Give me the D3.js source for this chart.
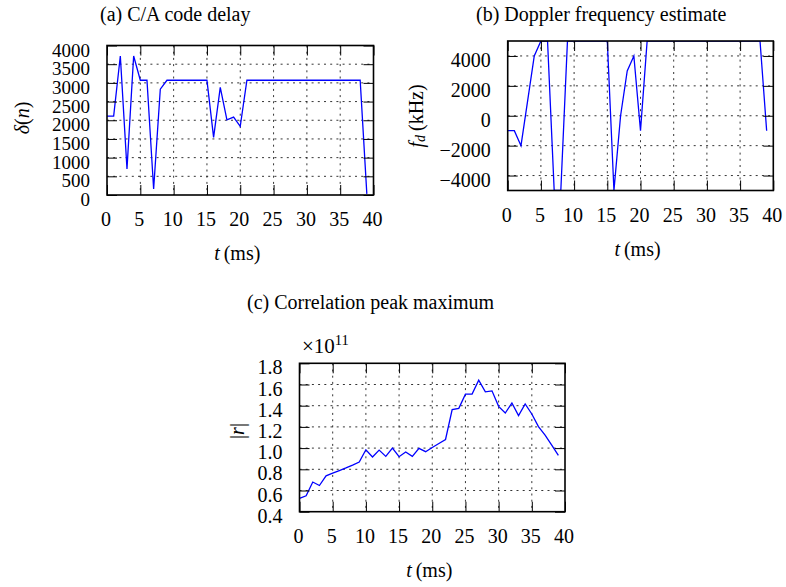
<!DOCTYPE html>
<html>
<head>
<meta charset="utf-8">
<script src="https://cdn.jsdelivr.net/npm/d3@7"></script>
<style>
  html, body { margin: 0; padding: 0; background: #fff; }
  svg { display: block; }
  text { font-family: "Liberation Serif", "Times New Roman", serif; fill: #000; }
</style>
</head>
<body>
<svg id="fig" width="786" height="587"></svg>
<script>
// Sample times (ms)
const timeMs = [0, 1, 2, 3, 4, 5, 6, 7, 8, 9, 10, 11, 12, 13, 14, 15, 16, 17, 18, 19,
                20, 21, 22, 23, 24, 25, 26, 27, 28, 29, 30, 31, 32, 33, 34, 35, 36, 37, 38, 39];

// (a) C/A code delay, samples
const codeDelay = [2110, 2110, 3720, 700, 3720, 3070, 3070, 160, 2830, 3070,
                   3070, 3070, 3070, 3070, 3070, 3070, 1540, 2880, 2010, 2085,
                   1835, 3070, 3070, 3070, 3070, 3070, 3070, 3070, 3070, 3070,
                   3070, 3070, 3070, 3070, 3070, 3070, 3070, 3070, 3070, 30];

// (b) Doppler frequency estimate
const dopplerFreq = [-1000, -1000, -2000, 1000, 4000, 5000, 5000, -5000, -5000, 5000,
                     5000, 5000, 5000, 5000, 5000, 5000, -5000, 0, 3000, 4000,
                     -1000, 5000, 5000, 5000, 5000, 5000, 5000, 5000, 5000, 5000,
                     5000, 5000, 5000, 5000, 5000, 5000, 5000, 5000, 5000, -1000];

// (c) Correlation peak maximum, in units of 1e11
const corrPeak = [0.525, 0.55, 0.68, 0.647, 0.738, 0.763, 0.788, 0.813, 0.84, 0.869,
                  0.984, 0.916, 0.981, 0.922, 1.0, 0.919, 0.963, 0.922, 0.997, 0.966,
                  1.006, 1.044, 1.081, 1.363, 1.375, 1.509, 1.509, 1.64, 1.531, 1.54,
                  1.394, 1.331, 1.425, 1.306, 1.416, 1.322, 1.203, 1.122, 1.028, 0.931];

// Tick values
const timeTicks = [0, 5, 10, 15, 20, 25, 30, 35, 40];
const delayTicks = [0, 500, 1000, 1500, 2000, 2500, 3000, 3500, 4000];
const dopplerTicks = [-4000, -2000, 0, 2000, 4000];
const corrTicks = [0.4, 0.6, 0.8, 1.0, 1.2, 1.4, 1.6, 1.8];

const svg = d3.select("#fig");
const TICK = 10;

function drawPanel(cfg, idx) {
  const x = d3.scaleLinear().domain([0, 40]).range([cfg.left, cfg.right]);
  const y = d3.scaleLinear().domain(cfg.yDomain).range([cfg.bottom, cfg.top]);
  const g = svg.append("g");
  const w = cfg.right - cfg.left, h = cfg.bottom - cfg.top;

  const clipId = "clip" + idx;
  svg.append("clipPath").attr("id", clipId)
    .append("rect").attr("x", cfg.left).attr("y", cfg.top).attr("width", w).attr("height", h);

  // dotted grid
  const grid = g.append("g").attr("stroke", "#000").attr("stroke-width", 0.8)
    .attr("stroke-dasharray", "2,4.2");
  grid.selectAll("line.gx").data(timeTicks.filter(t => t > 0 && t < 40)).join("line")
    .attr("x1", d => x(d)).attr("x2", d => x(d)).attr("y1", cfg.top).attr("y2", cfg.bottom);
  grid.selectAll("line.gy").data(cfg.yTicks.filter(v => v > cfg.yDomain[0] && v < cfg.yDomain[1])).join("line")
    .attr("y1", d => y(d)).attr("y2", d => y(d)).attr("x1", cfg.left).attr("x2", cfg.right);

  // data line
  const line = d3.line().x((d, i) => x(timeMs[i])).y(d => y(d));
  g.append("path").datum(cfg.values)
    .attr("clip-path", `url(#${clipId})`)
    .attr("fill", "none").attr("stroke", "#0000ff").attr("stroke-width", 1.3)
    .attr("stroke-linejoin", "miter").attr("d", line);

  // inward ticks on all sides
  const axB = g.append("g").attr("transform", `translate(0,${cfg.bottom})`)
    .call(d3.axisBottom(x).tickValues(timeTicks).tickSizeInner(-TICK).tickSizeOuter(0).tickFormat(d => d));
  const axT = g.append("g").attr("transform", `translate(0,${cfg.top})`)
    .call(d3.axisTop(x).tickValues(timeTicks).tickSizeInner(-TICK).tickSizeOuter(0).tickFormat(""));
  const axL = g.append("g").attr("transform", `translate(${cfg.left},0)`)
    .call(d3.axisLeft(y).tickValues(cfg.yTicks).tickSizeInner(-TICK).tickSizeOuter(0).tickFormat(cfg.fmt));
  const axR = g.append("g").attr("transform", `translate(${cfg.right},0)`)
    .call(d3.axisRight(y).tickValues(cfg.yTicks).tickSizeInner(-TICK).tickSizeOuter(0).tickFormat(""));
  [axB, axT, axL, axR].forEach(a => {
    a.select(".domain").remove();
    a.selectAll("line").attr("stroke", "#000").attr("stroke-width", 1);
  });
  axB.selectAll("text").attr("y", 31).attr("dy", null).attr("x", -1.5)
    .attr("font-size", 20).attr("font-family", "Liberation Serif, serif");
  axL.selectAll("text").attr("x", -17).attr("dy", null).attr("y", 10.5)
    .attr("font-size", cfg.yFont).attr("font-family", "Liberation Serif, serif");
  [axT, axR].forEach(a => a.selectAll("text").remove());

  // frame
  g.append("rect").attr("x", cfg.left).attr("y", cfg.top).attr("width", w).attr("height", h)
    .attr("fill", "none").attr("stroke", "#000").attr("stroke-width", 1.6);

  // x label
  const xl = g.append("text").attr("x", (cfg.left + cfg.right) / 2 - 3).attr("y", cfg.bottom + 65)
    .attr("text-anchor", "middle").attr("font-size", 20);
  xl.append("tspan").attr("font-style", "italic").text("t");
  xl.append("tspan").attr("dx", 4).text("(ms)");

  // title
  svg.append("text").attr("x", cfg.titleX).attr("y", cfg.titleY).attr("font-size", 20)
    .text(cfg.title);

  return { x, y };
}

const minus = d => (d < 0 ? "\u2212" + Math.abs(d) : String(d));

drawPanel({ left: 107, right: 373.5, top: 45.5, bottom: 195, yDomain: [0, 4000],
            yTicks: delayTicks, fmt: d => String(d), values: codeDelay, yFont: 19,
            title: "(a) C/A code delay", titleX: 100, titleY: 21 }, 0);
drawPanel({ left: 507.7, right: 773.3, top: 41, bottom: 190.5, yDomain: [-5000, 5000],
            yTicks: dopplerTicks, fmt: minus, values: dopplerFreq, yFont: 20,
            title: "(b) Doppler frequency estimate", titleX: 476, titleY: 21 }, 1);
drawPanel({ left: 299.5, right: 565, top: 363.3, bottom: 511.7, yDomain: [0.4, 1.8],
            yTicks: corrTicks, fmt: d3.format(".1f"), values: corrPeak, yFont: 20,
            title: "(c) Correlation peak maximum", titleX: 247, titleY: 309 }, 2);

// y-axis labels
const yl1 = svg.append("text").attr("transform", "translate(22,118) rotate(-90)")
  .attr("text-anchor", "middle").attr("dominant-baseline", "central").attr("font-size", 20);
yl1.append("tspan").attr("font-style", "italic").text("\u03b4");
yl1.append("tspan").text("(");
yl1.append("tspan").attr("font-style", "italic").text("n");
yl1.append("tspan").text(")");

const yl2 = svg.append("text").attr("transform", "translate(416,116) rotate(-90)")
  .attr("text-anchor", "middle").attr("dominant-baseline", "central").attr("font-size", 20);
yl2.append("tspan").attr("font-style", "italic").text("f");
yl2.append("tspan").attr("font-style", "italic").attr("font-size", 14).attr("dy", 4).text("d");
yl2.append("tspan").attr("dy", -4).attr("dx", 4).text("(kHz)");

const yl3 = svg.append("text").attr("transform", "translate(237,431) rotate(-90)")
  .attr("text-anchor", "middle").attr("dominant-baseline", "central").attr("font-size", 20);
yl3.append("tspan").text("|");
yl3.append("tspan").attr("font-style", "italic").text("r");
yl3.append("tspan").text("|");

// scale multiplier for panel (c)
const mult = svg.append("text").attr("x", 302).attr("y", 352.7).attr("font-size", 21);
mult.append("tspan").text("\u00d710");
mult.append("tspan").attr("font-size", 14.5).attr("dy", -8).text("11");
</script>
</body>
</html>
